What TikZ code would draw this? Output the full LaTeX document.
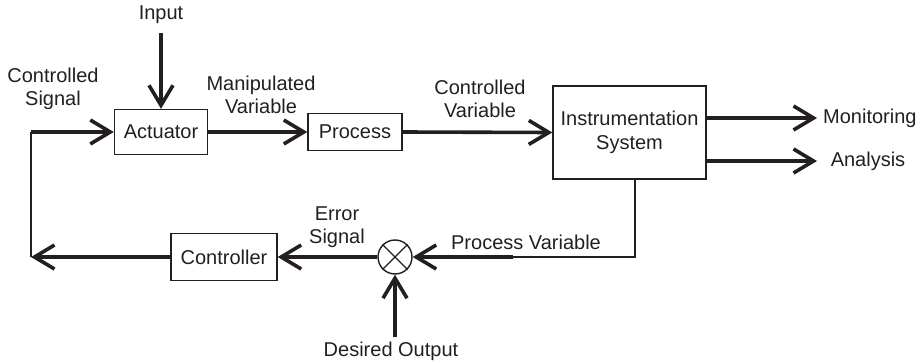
\documentclass[tikz,border=0pt]{standalone}
\usepackage{fontspec}
\setmainfont{Liberation Sans}
\usetikzlibrary{arrows.meta,calc}
\definecolor{ink}{HTML}{231F20}
\begin{document}
\begin{tikzpicture}[x=1pt,y=-1pt,
  every node/.style={font=\fontsize{20}{23.5}\selectfont, text=ink, inner sep=0pt},
  blk/.style={draw=ink, line width=1.4pt, minimum width=#1},
  lbl/.style={align=center},
  flow/.style={draw=ink, line width=3.6pt, -{Straight Barb[length=20pt,width=24pt]}},
  wire/.style={draw=ink, line width=1.4pt}]
\path[use as bounding box] (0,0) rectangle (922,364);
% blocks
\node[blk=93pt, minimum height=45pt] (act) at (161,132) {Actuator};
\node[blk=94pt, minimum height=37pt] (proc) at (355,132) {Process};
\node[blk=153pt, minimum height=93pt, align=center] (ins) at (629.5,132.5) {Instrumentation\\System};
\node[blk=106pt, minimum height=47pt] (ctl) at (224,257) {Controller};
\node[draw=ink, line width=1.4pt, circle, minimum size=34pt] (sum) at (395,257) {};
\draw[wire] (sum.45) -- (sum.225) (sum.135) -- (sum.315);
% free ends
\coordinate (inp) at (161,33);
\coordinate (lb) at (31,257);
\coordinate (lt) at (31,132);
\coordinate (mon) at (817,118);
\coordinate (ana) at (817,161);
\coordinate (corner) at (635,257);
\coordinate (pv) at (513,257);
\coordinate (des) at (395,337);
% labels
\node (tinp) at (161,15) {Input};
\node[lbl] (tcs) at (53,89) {Controlled\\Signal};
\node[lbl] (tmv) at (261,95) {Manipulated\\Variable};
\node[lbl] (tcv) at (480,99) {Controlled\\Variable};
\node[anchor=west] (tmon) at (823,118) {Monitoring};
\node (tana) at (868,161) {Analysis};
\node[lbl] (tes) at (337,227) {Error\\Signal};
\node (tpv) at (526,242) {Process Variable};
\node (tdo) at (391,351) {Desired Output};
% connectors
\draw[flow] (inp) -- (act.north);
\draw[wire] (lb) -- (lt);
\draw[flow] (lt) -- (act.west);
\draw[flow] (act.east) -- (proc.west);
\draw[flow] (proc.east) -- (ins.west);
\draw[flow] (ins.east |- mon) -- (mon);
\draw[flow] (ins.east |- ana) -- (ana);
\draw[wire] (ins.south -| corner) -- (corner) -- (pv);
\draw[flow] (pv) -- (sum.east);
\draw[flow] (sum.west) -- (ctl.east);
\draw[flow] (ctl.west) -- (lb);
\draw[flow] (des) -- (sum.south);
\end{tikzpicture}
\end{document}
